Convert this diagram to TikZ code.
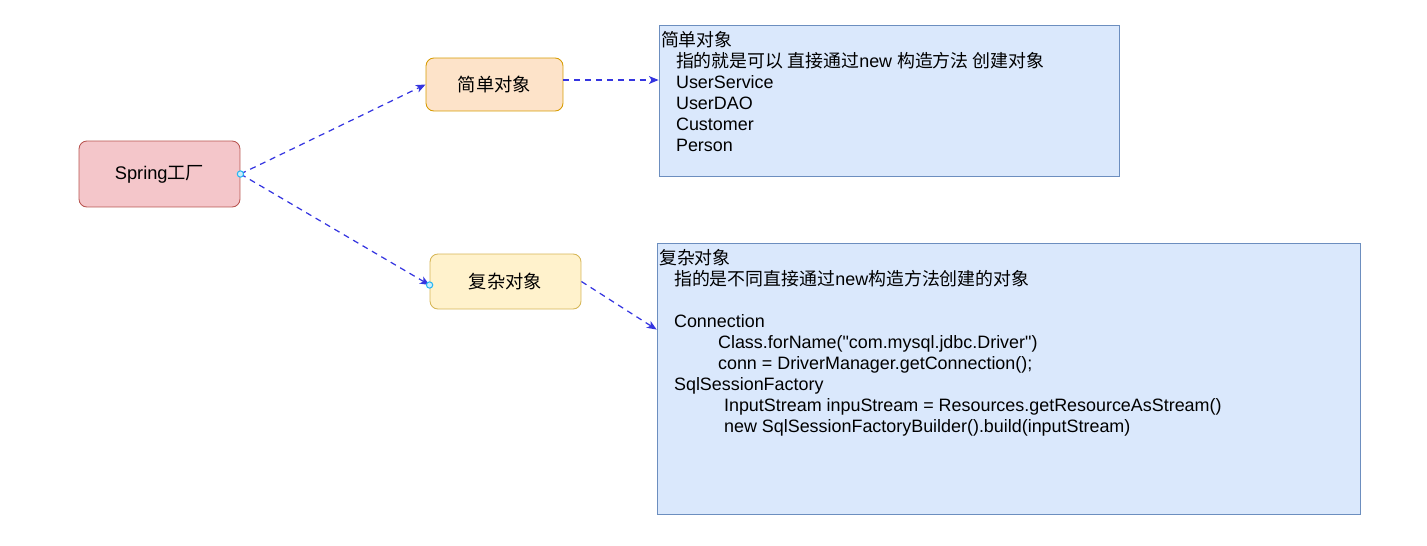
\documentclass[tikz,border=0pt]{standalone}
\usepackage{fontspec}
\setmainfont{Liberation Sans}[Ligatures=TeXOff]
\newfontfamily\cjk{Noto Sans CJK SC}
\newcommand{\zh}[1]{{\cjk #1}}
\usetikzlibrary{arrows.meta}
\definecolor{springfill}{HTML}{F4C6CA}
\definecolor{springline}{HTML}{B85450}
\definecolor{simplefill}{HTML}{FDE3C9}
\definecolor{simpleline}{HTML}{D79B00}
\definecolor{complexfill}{HTML}{FFF2CC}
\definecolor{complexline}{HTML}{D6B656}
\definecolor{infofill}{HTML}{DAE8FC}
\definecolor{infoline}{HTML}{6C8EBF}
\definecolor{linkblue}{HTML}{3535E0}
\definecolor{handlecyan}{HTML}{29B6F2}
\begin{document}
\begin{tikzpicture}[x=0.02cm, y=-0.02cm, font=\fontsize{10.2}{11.9}\selectfont,
        obj/.style={draw, rounded corners=4.5pt, line width=0.5pt, inner sep=0pt,
                    font=\fontsize{10.4}{12}\selectfont},
        info/.style={draw=infoline, fill=infofill, line width=0.5pt, inner sep=0pt},
        note/.style={anchor=north west, align=left, inner xsep=1.2pt, inner ysep=3.8pt},
        link/.style={draw=linkblue, line width=0.7pt, dash pattern=on 3.4pt off 2.8pt,
                     -{Stealth[length=5.5pt, width=4.5pt, inset=1.5pt]}},
        handle/.style={circle, draw=handlecyan, fill=handlecyan!25, line width=0.6pt,
                       inner sep=0pt, minimum size=3.6pt}]
      \useasboundingbox (0,0) rectangle (1427,545);
      % factory and the two kinds of objects
      \node[obj, fill=springfill, draw=springline, minimum width=3.22cm, minimum height=1.32cm]
            (spring)  at (159.5,174)  {Spring\zh{工厂}};
      \node[obj, fill=simplefill, draw=simpleline, minimum width=2.74cm, minimum height=1.06cm]
            (simple)  at (494.5,84.5) {\zh{简单对象}};
      \node[obj, fill=complexfill, draw=complexline, minimum width=3.02cm, minimum height=1.1cm]
            (complex) at (505.5,281.5) {\zh{复杂对象}};
      % notes
      \node[info, minimum width=9.2cm, minimum height=3.02cm]   (simplenote)  at (889,100.5) {};
      \node[info, minimum width=14.06cm, minimum height=5.42cm] (complexnote) at (1008.5,378.5) {};
      \node[note] (simpletext) at (simplenote.north west)
            {\zh{简单对象}\\
             \hspace*{0.3cm}\zh{指的就是可以 直接通过}new \zh{构造方法 创建对象}\\
             \hspace*{0.3cm}UserService\\
             \hspace*{0.3cm}UserDAO\\
             \hspace*{0.3cm}Customer\\
             \hspace*{0.3cm}Person};
      \node[note] (complextext) at (complexnote.north west)
            {\zh{复杂对象}\\
             \hspace*{0.3cm}\zh{指的是不同直接通过}new\zh{构造方法创建的对象}\\
             \mbox{}\\
             \hspace*{0.3cm}Connection\\
             \hspace*{1.18cm}Class.forName("com.mysql.jdbc.Driver")\\
             \hspace*{1.18cm}conn = DriverManager.getConnection();\\
             \hspace*{0.3cm}SqlSessionFactory\\
             \hspace*{1.3cm}InputStream inpuStream = Resources.getResourceAsStream()\\
             \hspace*{1.3cm}new SqlSessionFactoryBuilder().build(inputStream)};
      % connectors
      \coordinate (simpleout) at ([yshift=0.09cm]simple.east);
      \coordinate (complexin) at ([yshift=-1.74cm]complexnote.north west);
      \draw[link] (spring.east) -- (simple.west);
      \draw[link] (spring.east) -- ([yshift=-0.07cm]complex.west);
      \draw[link] (simpleout) -- (simpleout -| simplenote.west);
      \draw[link] (complex.east) -- (complexin);
      \node[handle] (springhandle)  at (spring.east) {};
      \node[handle] (complexhandle) at ([yshift=-0.07cm]complex.west) {};
    \end{tikzpicture}
\end{document}
